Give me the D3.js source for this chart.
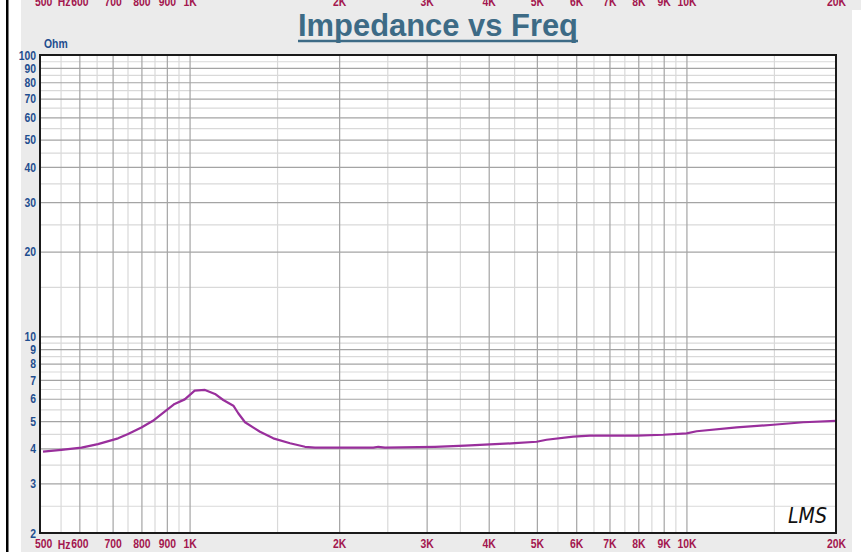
<!DOCTYPE html>
<html>
<head>
<meta charset="utf-8">
<script src="https://cdn.jsdelivr.net/npm/d3@7"></script>
<style>
  html, body { margin: 0; padding: 0; background: #ffffff; }
  svg { display: block; }
</style>
</head>
<body>
<svg id="chart" width="861" height="552"></svg>
<script>
// ---- data ----
const freqs = [507, 552, 606, 654, 718, 752, 800, 844, 891, 933, 978, 1024, 1074, 1125, 1169, 1225, 1253, 1293, 1386, 1474, 1593, 1707, 1788, 2203, 2343, 2398, 2473, 3118, 3584, 4023, 4517, 4995, 5230, 5918, 6396, 7938, 8983, 10010, 10485, 12620, 14953, 17184, 20000];
const ohms  = [3.89, 3.95, 4.02, 4.14, 4.34, 4.50, 4.74, 5.01, 5.40, 5.75, 5.97, 6.41, 6.45, 6.24, 5.94, 5.67, 5.33, 4.95, 4.58, 4.34, 4.17, 4.05, 4.02, 4.02, 4.02, 4.05, 4.02, 4.05, 4.09, 4.13, 4.17, 4.22, 4.29, 4.40, 4.44, 4.44, 4.47, 4.52, 4.60, 4.75, 4.85, 4.95, 5.01];

const xTicks = [500, 600, 700, 800, 900, 1000, 2000, 3000, 4000, 5000, 6000, 7000, 8000, 9000, 10000, 20000];
const xTickLabels = ["500", "600", "700", "800", "900", "1K", "2K", "3K", "4K", "5K", "6K", "7K", "8K", "9K", "10K", "20K"];
const xMinorTicks = [550, 650, 750, 850, 950, 1500, 2500, 3500, 4500, 5500, 6500, 7500, 8500, 9500, 15000];
const yTicks = [2, 3, 4, 5, 6, 7, 8, 9, 10, 20, 30, 40, 50, 60, 70, 80, 90, 100];
const yTickLabels = ["2", "3", "4", "5", "6", "7", "8", "9", "10", "20", "30", "40", "50", "60", "70", "80", "90", "100"];
const yMinorTicks = [2.5, 3.5, 4.5, 5.5, 6.5, 7.5, 8.5, 9.5, 15, 25, 35, 45, 55, 65, 75, 85, 95];

const titleText = "Impedance vs Freq";
const xUnit = "Hz";
const yUnit = "Ohm";
const logoText = "LMS";

// ---- layout ----
const W = 861, H = 552;
const plot = { left: 40, top: 55, right: 836, bottom: 533 };
const labelFont = "'Liberation Sans', Arial, sans-serif";
const labelSize = 13;
const squeeze = "scale(0.8,1)";
const xLabelColor = "#a3174f";
const yLabelColor = "#1f4e8f";

const svg = d3.select("#chart");

// background panels
svg.append("rect").attr("x", 0).attr("y", 0).attr("width", W).attr("height", H).attr("fill", "#ffffff");
svg.append("rect").attr("x", 21).attr("y", 0).attr("width", 840).attr("height", H).attr("fill", "#ebebeb");
svg.append("rect").attr("x", 852).attr("y", 10).attr("width", 9).attr("height", H - 10).attr("fill", "#ffffff");
svg.append("rect").attr("x", 6).attr("y", 0).attr("width", 2.5).attr("height", H).attr("fill", "#000000");

// plot background
svg.append("rect")
  .attr("x", plot.left).attr("y", plot.top)
  .attr("width", plot.right - plot.left).attr("height", plot.bottom - plot.top)
  .attr("fill", "#ffffff");

const x = d3.scaleLog().domain([500, 20000]).range([plot.left, plot.right]);
const y = d3.scaleLog().domain([2, 100]).range([plot.bottom, plot.top]);

const plotH = plot.bottom - plot.top;
const plotW = plot.right - plot.left;

// ---- grid via axes ----
function styleGrid(g, color, width) {
  g.select(".domain").remove();
  g.selectAll(".tick text").remove();
  g.selectAll(".tick line").attr("stroke", color).attr("stroke-width", width);
}

svg.append("g")
  .attr("transform", `translate(0,${plot.bottom})`)
  .call(d3.axisBottom(x).tickValues(xMinorTicks).tickSize(-plotH).tickFormat(""))
  .call(g => styleGrid(g, "#d9d9d9", 1.2));
svg.append("g")
  .attr("transform", `translate(${plot.left},0)`)
  .call(d3.axisLeft(y).tickValues(yMinorTicks).tickSize(-plotW).tickFormat(""))
  .call(g => styleGrid(g, "#d9d9d9", 1.2));
svg.append("g")
  .attr("transform", `translate(0,${plot.bottom})`)
  .call(d3.axisBottom(x).tickValues(xTicks.slice(1, -1)).tickSize(-plotH).tickFormat(""))
  .call(g => styleGrid(g, "#a4a4a4", 1.2));
svg.append("g")
  .attr("transform", `translate(${plot.left},0)`)
  .call(d3.axisLeft(y).tickValues(yTicks.slice(1, -1)).tickSize(-plotW).tickFormat(""))
  .call(g => styleGrid(g, "#a4a4a4", 1.2));

// ---- curve ----
const pts = freqs.map((f, i) => [f, ohms[i]]);
const line = d3.line().x(d => x(d[0])).y(d => y(d[1]));
svg.append("path")
  .datum(pts)
  .attr("d", line)
  .attr("fill", "none")
  .attr("stroke", "#992f9c")
  .attr("stroke-width", 2.2)
  .attr("stroke-linejoin", "round");

// plot frame
svg.append("rect")
  .attr("x", plot.left).attr("y", plot.top)
  .attr("width", plotW).attr("height", plotH)
  .attr("fill", "none").attr("stroke", "#1a1a1a").attr("stroke-width", 2);

// ---- axis labels ----
function styleLabels(g, color) {
  g.select(".domain").remove();
  g.selectAll(".tick line").remove();
  g.selectAll(".tick text")
    .attr("fill", color)
    .attr("font-family", labelFont)
    .attr("font-weight", "bold")
    .attr("font-size", labelSize)
    .attr("transform", squeeze);
}

// bottom labels
svg.append("g")
  .attr("transform", `translate(0,${plot.bottom})`)
  .call(d3.axisBottom(x).tickValues(xTicks).tickSize(0).tickFormat((d, i) => xTickLabels[i]))
  .call(g => styleLabels(g, xLabelColor))
  .call(g => g.selectAll(".tick text").attr("y", 15.5).attr("dy", 0)
    .attr("dx", (d, i) => i === 0 ? 4 : 0));

// top labels
svg.append("g")
  .attr("transform", `translate(0,0)`)
  .call(d3.axisTop(x).tickValues(xTicks).tickSize(0).tickFormat((d, i) => xTickLabels[i]))
  .call(g => styleLabels(g, xLabelColor))
  .call(g => g.selectAll(".tick text").attr("y", 6).attr("dy", 0)
    .attr("dx", (d, i) => i === 0 ? 4 : 0));

// "Hz" unit labels (bottom and top)
[plot.bottom + 15.5, 6].forEach(yy => {
  svg.append("g")
    .attr("transform", `translate(${x(600) - 9},${yy})`)
    .append("text")
    .attr("transform", squeeze)
    .attr("text-anchor", "end")
    .attr("fill", xLabelColor)
    .attr("font-family", labelFont).attr("font-weight", "bold").attr("font-size", labelSize)
    .text(xUnit);
});

// left labels
svg.append("g")
  .attr("transform", `translate(${plot.left},0)`)
  .call(d3.axisLeft(y).tickValues(yTicks).tickSize(0).tickPadding(5).tickFormat((d, i) => yTickLabels[i]))
  .call(g => styleLabels(g, yLabelColor));

// "Ohm"
svg.append("g")
  .attr("transform", `translate(${plot.left + 4},${plot.top - 7})`)
  .append("text")
  .attr("transform", squeeze)
  .attr("fill", yLabelColor)
  .attr("font-family", labelFont).attr("font-weight", "bold").attr("font-size", labelSize)
  .text(yUnit);

// ---- title ----
const titleColor = "#3d6b86";
svg.append("text")
  .attr("x", 438).attr("y", 36)
  .attr("text-anchor", "middle")
  .attr("fill", titleColor)
  .attr("font-family", "'Liberation Sans', Arial, sans-serif")
  .attr("font-weight", "bold")
  .attr("font-size", 31)
  .attr("textLength", 280)
  .attr("lengthAdjust", "spacingAndGlyphs")
  .text(titleText);
svg.append("line")
  .attr("x1", 298).attr("x2", 578).attr("y1", 41).attr("y2", 41)
  .attr("stroke", titleColor).attr("stroke-width", 2.5);

// ---- LMS logo ----
svg.append("text")
  .attr("x", 788).attr("y", 523)
  .attr("fill", "#111")
  .attr("font-family", "'DejaVu Sans', sans-serif")
  .attr("font-style", "italic")
  .attr("font-weight", "normal")
  .attr("font-size", 22)
  .attr("textLength", 39)
  .attr("lengthAdjust", "spacingAndGlyphs")
  .text(logoText);
</script>
</body>
</html>
